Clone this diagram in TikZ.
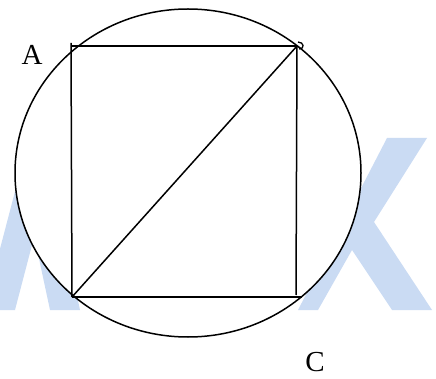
\documentclass[tikz,border=0pt]{standalone}
\usepackage{fontspec}
\setmainfont{Liberation Serif}
\definecolor{ink}{HTML}{000000}
\definecolor{mark}{HTML}{CADBF3}
\tikzset{
  every node/.style={text=ink},
  edge/.style={line width=1.5pt, draw=ink},
  rim/.style={line width=1.5pt, draw=ink, fill=white},
  vertex/.style={font=\fontsize{29}{33}\selectfont, inner sep=0pt, anchor=base},
  watermark/.style={fill=mark},
}

\begin{document}
\begin{tikzpicture}[x=1pt, y=-1pt]
  \useasboundingbox (0,0) rectangle (436,379);

  % ---------------------------------------------------------------- watermark
  \fill[watermark] (-16,310) -- (15,310) -- (60,138) -- (29,138) -- cycle;
  \fill[watermark] (20,170) -- (50,170) -- (80,310) -- (50,310) -- cycle;
  \fill[watermark] (387,138) -- (427,138) -- (374,222) -- (432,310) -- (392,310)
    -- (352,250) -- (318,310) -- (298,310) -- cycle;

  % ---------------------------------------------------------------- circle
  \draw[rim] (188,173) ellipse [x radius=173pt, y radius=164pt];

  % ---------------------------------------------------------------- square
  \coordinate (A) at (71,46);
  \coordinate (B) at (297,46);
  \coordinate (C) at (302,297);
  \coordinate (D) at (72,297);
  \coordinate (Bfoot) at (296,295);

  \draw[edge] (A) -- (B);
  \draw[edge] ([yshift=3pt]A) -- (D);
  \draw[edge] (B) -- (Bfoot);
  \draw[edge] (D) -- (C);
  \draw[edge] (B) -- (D);
  \draw[edge, line width=1.3pt] ([xshift=1pt, yshift=4pt]B)
    to[out=0, in=0, looseness=2.2] ([xshift=2pt, yshift=-3pt]B);

  % ---------------------------------------------------------------- labels
  \node[vertex] (labelA) at (32,65) {A};
  \node[vertex] (labelC) at (315,371) {C};

\end{tikzpicture}
\end{document}
